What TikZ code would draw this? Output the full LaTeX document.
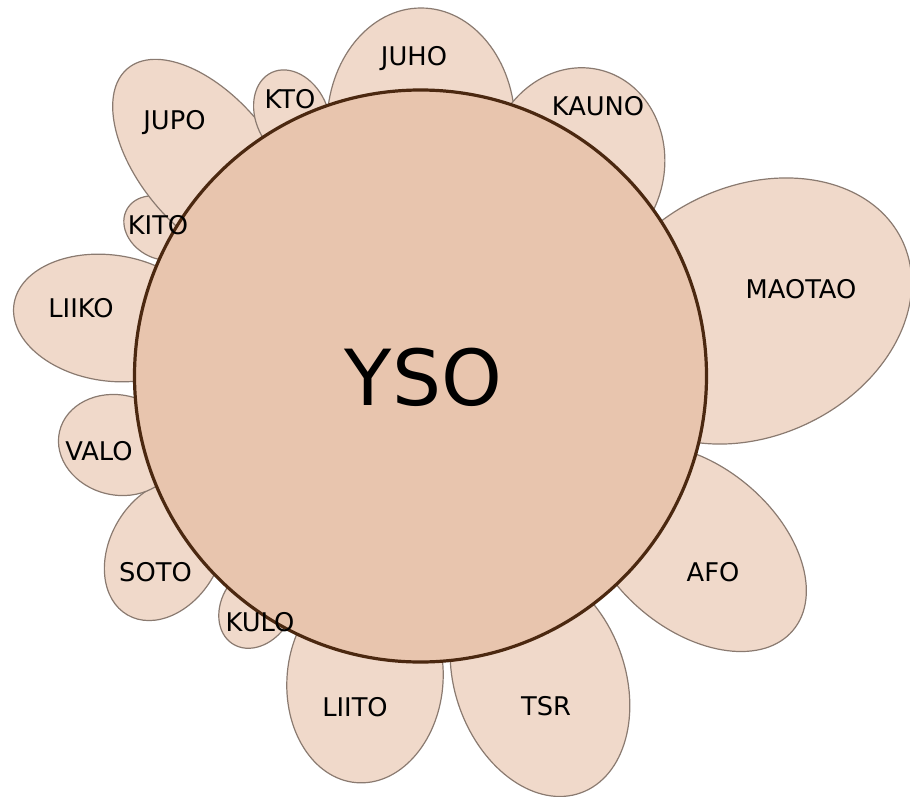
\documentclass[tikz,border=0pt]{standalone}
\usepackage{fontspec}
\setmainfont{DejaVu Sans}
\definecolor{petalfill}{HTML}{F0D9CA}
\definecolor{petaledge}{HTML}{8A7A70}
\definecolor{corefill}{HTML}{E8C5AE}
\definecolor{coreedge}{HTML}{4B2810}
\newcommand\mypetal[5]{\draw[petalshape,rotate around={#3:(#1,#2)}] (#1,#2) ellipse [x radius=#4, y radius=#5];}
\begin{document}
\begin{tikzpicture}[x=0.75pt,y=-0.75pt,
  petalshape/.style={fill=petalfill,draw=petaledge,line width=0.9pt},
  lbl/.style={font=\fontsize{19.3}{20}\selectfont,inner sep=0pt,anchor=base},
  corestyle/.style={fill=corefill,draw=coreedge,line width=2.4pt}]
\useasboundingbox (0,0) rectangle (910,796);
\begin{scope}
\clip (0,0) rectangle (910,796);
% petals: cx, cy, rotation, a, b
\mypetal{421}{125}{90}{117}{94}     % JUHO
\mypetal{576}{167}{75}{100}{88}     % KAUNO
\mypetal{753}{311}{25}{165}{125}    % MAOTAO
\mypetal{695}{548}{-40}{128}{82}    % AFO
\mypetal{540}{680}{-70}{120}{85}    % TSR
\mypetal{365}{680}{-95}{103}{78}    % LIITO
\mypetal{257}{606}{-123}{45}{35}    % KULO
\mypetal{165}{550}{-120}{75}{55}    % SOTO
\mypetal{118}{445}{167}{60}{50}     % VALO
\mypetal{110}{318}{172}{97}{63}     % LIIKO
\mypetal{160}{228}{150}{38}{30}     % KITO
\mypetal{206}{162}{130}{122}{66}    % JUPO
\mypetal{292}{116}{115}{48}{36}     % KTO
\draw[corestyle] (420.5,376) circle [radius=286];
\end{scope}
\node[font=\fontsize{58}{60}\selectfont,inner sep=0pt,anchor=base] (yso) at (423.5,405) {YSO};
\node[lbl] (juho) at (414,65.5) {JUHO};
\node[lbl] (kto) at (290,108.5) {KTO};
\node[lbl] (jupo) at (174.5,129.5) {JUPO};
\node[lbl] (kito) at (158,234.5) {KITO};
\node[lbl] (liiko) at (81,317.5) {LIIKO};
\node[lbl] (kauno) at (598,115.5) {KAUNO};
\node[lbl] (maotao) at (801,298.5) {MAOTAO};
\node[lbl] (valo) at (99,460.5) {VALO};
\node[lbl] (soto) at (155.5,581.5) {SOTO};
\node[lbl] (kulo) at (260,631.5) {KULO};
\node[lbl] (liito) at (355,716) {LIITO};
\node[lbl] (afo) at (713,581.5) {AFO};
\node[lbl] (tsr) at (546,715) {TSR};
\end{tikzpicture}
\end{document}
